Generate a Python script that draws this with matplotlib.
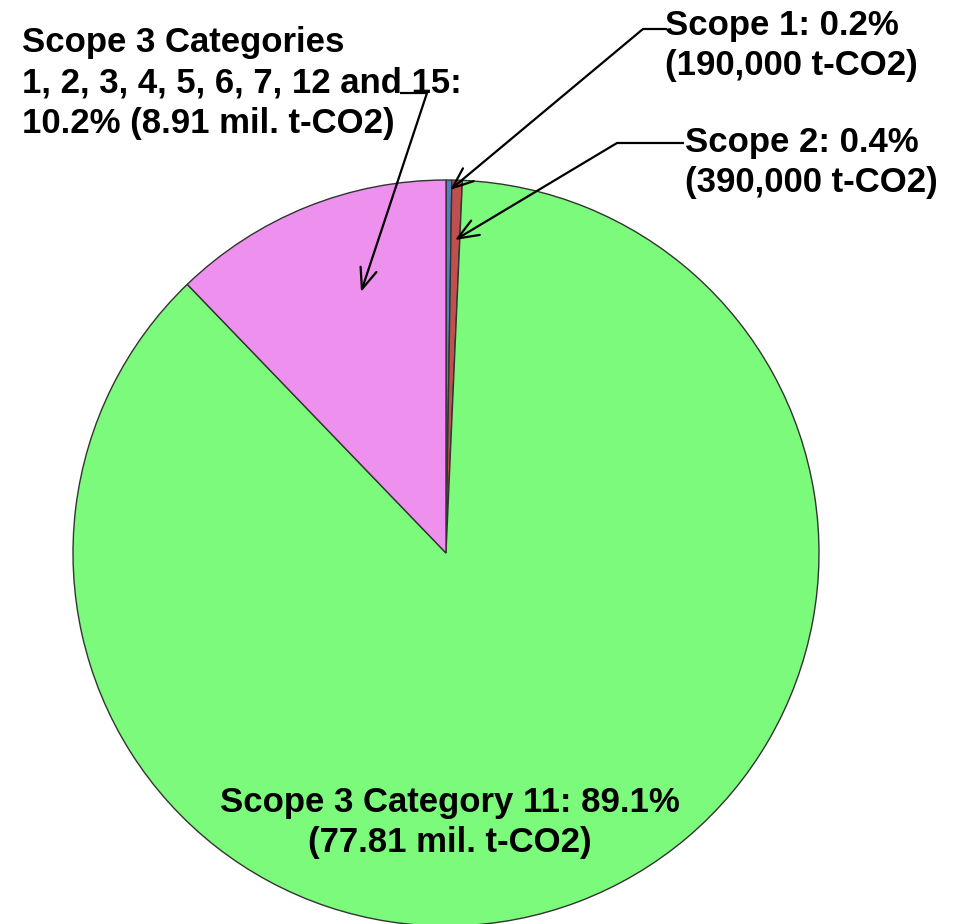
import matplotlib
matplotlib.use('Agg')
import matplotlib.pyplot as plt

W, H = 959, 924

# ---- data ----
categories = ["Scope 1", "Scope 2", "Scope 3 Category 11",
              "Scope 3 Categories 1, 2, 3, 4, 5, 6, 7, 12 and 15"]
emissions_text = ["190,000 t-CO2", "390,000 t-CO2", "77.81 mil. t-CO2", "8.91 mil. t-CO2"]
percent_text = ["0.2%", "0.4%", "89.1%", "10.2%"]
# wedge shares as drawn in the reference picture (%)
shares_drawn = [0.25, 0.45, 87.1, 12.2]
colors = ['#4F81BD', '#C0504D', '#7CFA7C', '#EE90EE']

plt.rcParams['font.family'] = ['Liberation Sans', 'DejaVu Sans']
FS = 25

fig = plt.figure(figsize=(W / 100, H / 100), dpi=100)
ax = fig.add_axes([0, 0, 1, 1])


def Y(y):
    return H - y


ax.pie(shares_drawn, colors=colors, startangle=90, counterclock=False,
       center=(446, Y(553)), radius=373,
       wedgeprops=dict(edgecolor='#333333', linewidth=1.0))
ax.set_xlim(0, W)
ax.set_ylim(0, H)
ax.set_aspect('equal')
ax.axis('off')

tk = dict(fontsize=FS, fontweight='bold', color='black', va='baseline')

# Scope 3 categories label (top-left)
ax.text(22, Y(52), "Scope 3 Categories", ha='left', **tk)
ax.text(22, Y(92), "1, 2, 3, 4, 5, 6, 7, 12 and 15:", ha='left', **tk)
ax.text(22, Y(133), f"{percent_text[3]} ({emissions_text[3]})", ha='left', **tk)

# Scope 1
ax.text(665, Y(35), f"{categories[0]}: {percent_text[0]}", ha='left', **tk)
ax.text(665, Y(75), f"({emissions_text[0]})", ha='left', **tk)

# Scope 2
ax.text(685, Y(152), f"{categories[1]}: {percent_text[1]}", ha='left', **tk)
ax.text(685, Y(192), f"({emissions_text[1]})", ha='left', **tk)

# Category 11
ax.text(450, Y(812), f"{categories[2]}: {percent_text[2]}", ha='center', **tk)
ax.text(450, Y(852), f"({emissions_text[2]})", ha='center', **tk)

# leader lines with arrows
LW = 1.6
arrow_kw = dict(arrowstyle='->,head_length=0.75,head_width=0.3',
                color='black', lw=LW, shrinkA=0, shrinkB=0, mutation_scale=20)
leaders = [
    ((667, 29), (643, 29), (450, 190)),
    ((684, 143), (617, 143), (455, 240)),
    ((400, 93), (427, 93), (361, 292)),
]
for (x0, y0), (x1, y1), (x2, y2) in leaders:
    ax.plot([x0, x1], [Y(y0), Y(y1)], color='black', lw=LW, solid_capstyle='butt')
    ax.annotate('', xy=(x2, Y(y2)), xytext=(x1, Y(y1)), arrowprops=arrow_kw)

fig.savefig('out.png', dpi=100)
